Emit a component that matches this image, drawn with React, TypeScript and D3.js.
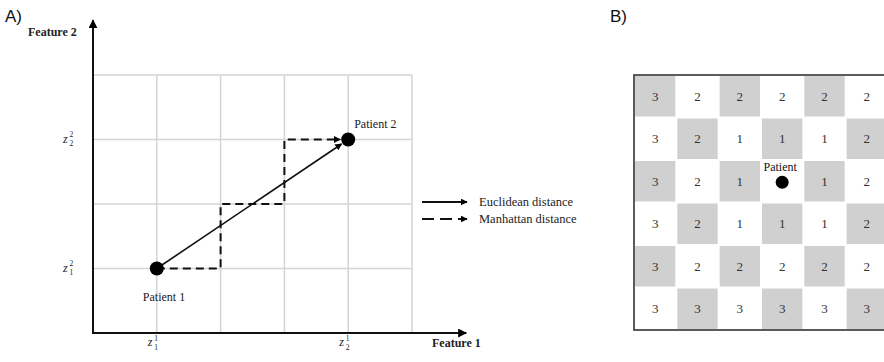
import React from 'react';
import * as d3 from 'd3';

const gridCols = [1, 2, 3, 4, 5];
const gridRows = [1, 2, 3, 4];
const patient1 = { x: 1, y: 1, label: 'Patient 1' };
const patient2 = { x: 4, y: 3, label: 'Patient 2' };
const manhattanPath: [number, number][] = [[1, 1], [2, 1], [2, 2], [3, 2], [3, 3], [4, 3]];
const xTickLabels = [{ v: 1, sub: '1', sup: '1' }, { v: 4, sub: '2', sup: '1' }];
const yTickLabels = [{ v: 1, sub: '1', sup: '2' }, { v: 3, sub: '2', sup: '2' }];
const legendItems = ['Euclidean distance', 'Manhattan distance'];
const distanceGrid: (number | null)[][] = [
  [3, 2, 2, 2, 2, 2],
  [3, 2, 1, 1, 1, 2],
  [3, 2, 1, null, 1, 2],
  [3, 2, 1, 1, 1, 2],
  [3, 2, 2, 2, 2, 2],
  [3, 3, 3, 3, 3, 3],
];
const patientCell = { row: 2, col: 3, label: 'Patient' };

const SERIF = '"Liberation Serif", "DejaVu Serif", serif';
const SANS = '"Liberation Sans", "Open Sans", sans-serif';

function ZLabel({ x, y, sub, sup }: { x: number; y: number; sub: string; sup: string }) {
  return (
    <g fontFamily={SERIF} fill="#222">
      <text x={x} y={y} fontSize={12} fontStyle="italic">z</text>
      <text x={x + 6.5} y={y - 5.5} fontSize={7.5}>{sup}</text>
      <text x={x + 6.5} y={y + 3.5} fontSize={7.5}>{sub}</text>
    </g>
  );
}

export default function App() {
  const xA = d3.scaleLinear().domain([0, 5]).range([93, 412]);
  const yA = d3.scaleLinear().domain([0, 4]).range([333, 75]);

  const rows = d3.range(distanceGrid.length);
  const cols = d3.range(distanceGrid[0].length);
  const xB = d3.scaleBand<number>().domain(cols).range([634, 888]);
  const yB = d3.scaleBand<number>().domain(rows).range([75, 330]);

  const line = d3.line<[number, number]>().x(d => xA(d[0])).y(d => yA(d[1]));

  const p1 = [xA(patient1.x), yA(patient1.y)];
  const p2 = [xA(patient2.x), yA(patient2.y)];
  const dx = p2[0] - p1[0], dy = p2[1] - p1[1];
  const len = Math.hypot(dx, dy);
  const r = 7;
  const eEnd = [p2[0] - (dx / len) * (r + 1), p2[1] - (dy / len) * (r + 1)];
  const mPts = manhattanPath.map(d => [d[0], d[1]] as [number, number]);
  const mLast = mPts[mPts.length - 1];
  const mPathStr = line(mPts.slice(0, -1).concat([[mLast[0] - (r + 1) / (xA(1) - xA(0)), mLast[1]]]));

  return (
    <svg width={884} height={362} style={{ position: 'absolute', left: 0, top: 0, background: '#fff' }}>
      <defs>
        <marker id="ah" viewBox="0 0 10 10" refX={9} refY={5} markerWidth={7} markerHeight={7} markerUnits="userSpaceOnUse" orient="auto">
          <path d="M0,0 L10,5 L0,10 z" fill="#000" />
        </marker>
        <marker id="ahBig" viewBox="0 0 10 10" refX={9} refY={5} markerWidth={9} markerHeight={9} markerUnits="userSpaceOnUse" orient="auto">
          <path d="M0,0 L10,5 L0,10 z" fill="#000" />
        </marker>
      </defs>

      <text x={5} y={22} fontFamily={SANS} fontSize={17} fill="#111">A)</text>
      <text x={610} y={22} fontFamily={SANS} fontSize={17} fill="#111">B)</text>

      <g stroke="#d4d4d4" strokeWidth={1.5}>
        {gridRows.map(v => (
          <line key={'h' + v} x1={xA(0)} x2={xA(5)} y1={yA(v)} y2={yA(v)} />
        ))}
        {gridCols.map(v => (
          <line key={'v' + v} x1={xA(v)} x2={xA(v)} y1={yA(0)} y2={yA(4)} />
        ))}
      </g>

      <line x1={xA(0)} x2={xA(0)} y1={yA(0) + 1} y2={yA(4.85)} stroke="#111" strokeWidth={2} markerEnd="url(#ahBig)" />
      <line x1={xA(0) - 1} x2={xA(5.85)} y1={yA(0)} y2={yA(0)} stroke="#111" strokeWidth={2} markerEnd="url(#ahBig)" />
      <text x={28} y={36} fontFamily={SERIF} fontSize={12} fontWeight="bold" fill="#222">Feature 2</text>
      <text x={432} y={347} fontFamily={SERIF} fontSize={12} fontWeight="bold" fill="#222">Feature 1</text>

      {xTickLabels.map(t => (
        <ZLabel key={'xt' + t.v} x={xA(t.v) - 9} y={346} sub={t.sub} sup={t.sup} />
      ))}
      {yTickLabels.map(t => (
        <ZLabel key={'yt' + t.v} x={63} y={yA(t.v) + 3} sub={t.sub} sup={t.sup} />
      ))}

      <path d={mPathStr || ''} fill="none" stroke="#111" strokeWidth={2} strokeDasharray="8,5" markerEnd="url(#ah)" />
      <line x1={p1[0]} y1={p1[1]} x2={eEnd[0]} y2={eEnd[1]} stroke="#111" strokeWidth={1.6} markerEnd="url(#ah)" />

      {[patient1, patient2].map(p => (
        <circle key={p.label} cx={xA(p.x)} cy={yA(p.y)} r={r} fill="#000" />
      ))}
      <text x={xA(patient2.x) + 6} y={yA(patient2.y) - 12} fontFamily={SERIF} fontSize={12} fill="#222">{patient2.label}</text>
      <text x={xA(patient1.x) - 14} y={yA(patient1.y) + 32} fontFamily={SERIF} fontSize={12} fill="#222">{patient1.label}</text>

      {legendItems.map((name, i) => (
        <g key={name} transform={`translate(0, ${202 + i * 17})`}>
          <line x1={422} x2={467} y1={0} y2={0} stroke="#111" strokeWidth={2}
            strokeDasharray={i === 1 ? '12,6' : undefined} markerEnd="url(#ah)" />
          <text x={479} y={4} fontFamily={SERIF} fontSize={12.5} fill="#222">{name}</text>
        </g>
      ))}

      <g>
        {rows.map(ri => cols.map(ci => {
          const gray = (ri + ci) % 2 === 0;
          const v = distanceGrid[ri][ci];
          const cx = (xB(ci) as number) + xB.bandwidth() / 2;
          const cy = (yB(ri) as number) + yB.bandwidth() / 2;
          return (
            <g key={`c${ri}-${ci}`}>
              {gray && (
                <rect x={(xB(ci) as number) + 1} y={(yB(ri) as number) + 1}
                  width={xB.bandwidth() - 2} height={yB.bandwidth() - 2} fill="#d0d0d0" />
              )}
              {v !== null && (
                <text x={cx} y={cy + 4.5} textAnchor="middle" fontFamily={SERIF} fontSize={13} fill="#333">{v}</text>
              )}
            </g>
          );
        }))}
        <circle cx={(xB(patientCell.col) as number) + xB.bandwidth() / 2}
          cy={(yB(patientCell.row) as number) + yB.bandwidth() / 2 + 1} r={6.5} fill="#000" />
        <text x={(xB(patientCell.col) as number) + xB.bandwidth() / 2 - 2}
          y={(yB(patientCell.row) as number) + 11} textAnchor="middle" fontFamily={SERIF} fontSize={12} fill="#111">{patientCell.label}</text>
        <rect x={634} y={75} width={254} height={255} fill="none" stroke="#333" strokeWidth={1.6} />
      </g>
    </svg>
  );
}
